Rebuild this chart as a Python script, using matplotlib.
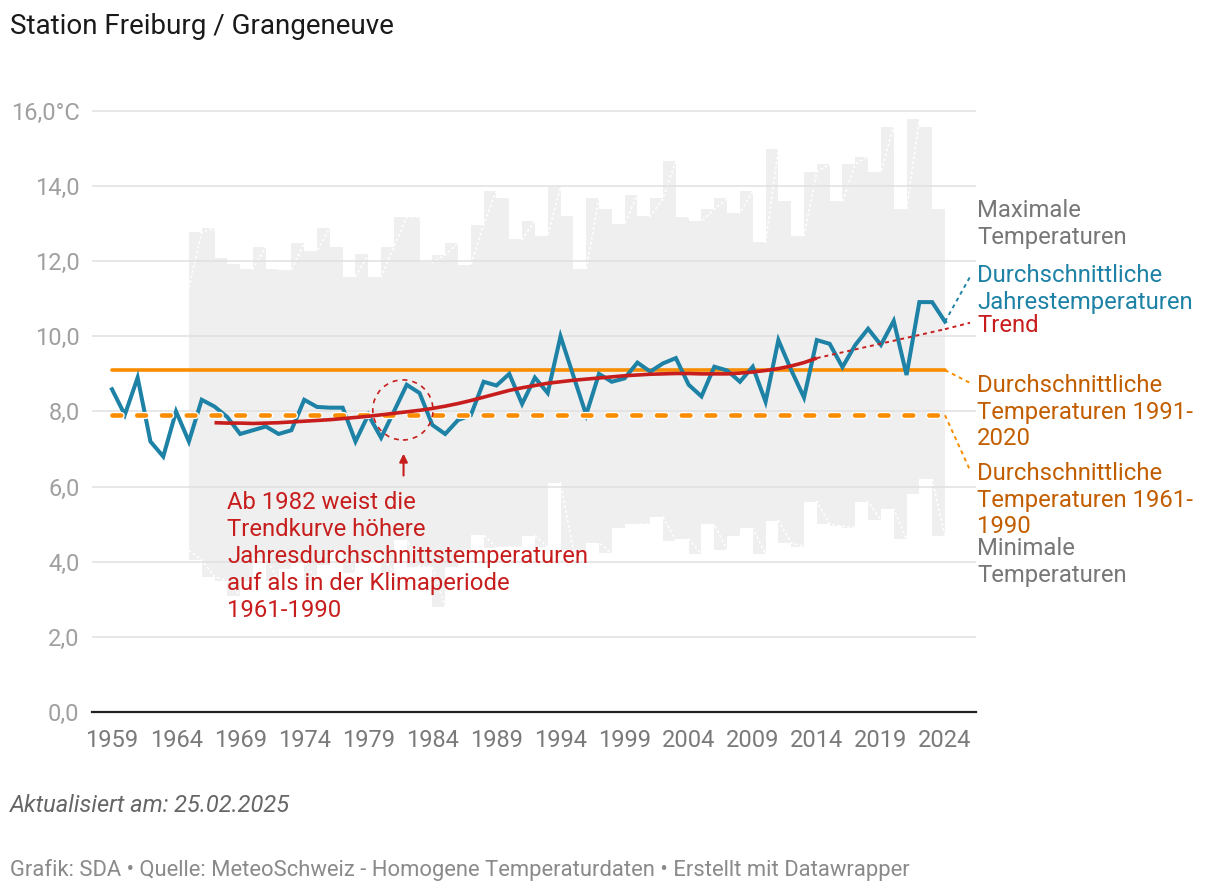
import matplotlib
matplotlib.use("Agg")
import matplotlib.pyplot as plt
import matplotlib.patheffects as pe
from matplotlib.patches import Ellipse

plt.rcParams['font.family'] = ['Roboto', 'DejaVu Sans']

# Jahresmittel 1959-2024
years = list(range(1959, 2025))
mean_temp = [8.59, 7.91, 8.9, 7.2, 6.8, 8.0, 7.2, 8.31, 8.13, 7.85,
             7.4, 7.5, 7.6, 7.4, 7.5, 8.31, 8.12, 8.1, 8.1, 7.2,
             7.91, 7.3, 8.0, 8.71, 8.49, 7.64, 7.4, 7.77, 7.9, 8.79,
             8.69, 9.0, 8.2, 8.9, 8.49, 10.0, 8.95, 7.91, 9.0, 8.79,
             8.88, 9.3, 9.06, 9.28, 9.42, 8.71, 8.4, 9.19, 9.09, 8.79,
             9.19, 8.26, 9.9, 9.1, 8.37, 9.9, 9.8, 9.18, 9.77, 10.2,
             9.77, 10.41, 8.97, 10.91, 10.91, 10.39]

# Max / Min 1965-2024
range_years = list(range(1965, 2025))
max_temp = [11.3, 12.77, 12.88, 12.08, 11.93, 11.79, 12.38, 11.79, 11.77, 12.48,
            12.28, 12.88, 12.38, 11.59, 12.18, 11.59, 12.38, 13.18, 13.18, 11.97,
            12.17, 12.48, 11.9, 12.97, 13.88, 13.67, 12.58, 13.08, 12.67, 13.97,
            13.19, 11.79, 13.67, 13.38, 12.98, 13.77, 13.19, 13.67, 14.67, 13.17,
            13.07, 13.38, 13.67, 13.28, 13.87, 12.5, 14.98, 13.59, 12.68, 14.38,
            14.58, 13.59, 14.58, 14.78, 14.38, 15.58, 13.38, 15.78, 15.58, 13.38]
min_temp = [4.3, 4.05, 3.6, 3.5, 3.1, 3.5, 4.1, 3.5, 3.8, 4.0,
            3.5, 3.9, 4.3, 3.7, 4.0, 4.2, 3.7, 4.58, 3.87, 3.87,
            2.8, 3.87, 4.3, 4.71, 4.37, 4.4, 4.4, 4.69, 4.4, 6.1,
            4.31, 4.27, 4.5, 4.22, 4.89, 5.0, 5.0, 5.2, 4.55, 4.6,
            4.2, 5.0, 4.31, 4.69, 4.89, 4.2, 5.09, 4.5, 4.4, 5.6,
            5.0, 4.95, 4.91, 5.6, 5.11, 5.4, 4.6, 5.8, 6.19, 4.69]

# Trendkurve 1967-2014, danach gepunktet
trend_years = list(range(1967, 2015))
trend = [7.70, 7.69, 7.69, 7.68, 7.69, 7.70, 7.72, 7.74, 7.76, 7.78,
         7.81, 7.84, 7.87, 7.91, 7.95, 7.99, 8.03, 8.08, 8.14, 8.21,
         8.29, 8.38, 8.47, 8.56, 8.63, 8.69, 8.75, 8.79, 8.83, 8.86,
         8.89, 8.92, 8.95, 8.97, 8.99, 9.00, 9.01, 9.01, 9.00, 9.00,
         9.00, 9.02, 9.05, 9.09, 9.14, 9.21, 9.30, 9.42]
trend_ext_years = [2014, 2024]
trend_ext = [9.42, 10.19]

norm_1991_2020 = 9.1
norm_1961_1990 = 7.9

yticks = [0, 2, 4, 6, 8, 10, 12, 14, 16]
ytick_labels = ['0,0', '2,0', '4,0', '6,0', '8,0', '10,0', '12,0', '14,0', '16,0°C']
xticks = list(range(1959, 2025, 5))

BLUE = '#1d82a5'
RED = '#c71e1d'
ORANGE = '#fa8c00'
ORANGE_TXT = '#c35e00'
GRAY_TXT = '#777777'
LBL = 17.2

W, H = 1220, 894
fig = plt.figure(figsize=(W / 100, H / 100), dpi=100)
ax = fig.add_axes([92 / W, 1 - 712 / H, (976 - 92) / W, (712 - 109) / H])
ax.set_xlim(1957.44, 2026.42)
ax.set_ylim(0, 16.05)

# Bereich Min-Max
ax.fill_between(range_years, min_temp, max_temp, step='pre', color='#efefef', lw=0, zorder=1)
ax.plot(range_years, max_temp, color='white', lw=1.2, ls=(0, (1.5, 1.5)), zorder=1.5)
ax.plot(range_years, min_temp, color='white', lw=1.2, ls=(0, (1.5, 1.5)), zorder=1.5)

for y in yticks[1:]:
    ax.axhline(y, color='#e0e0e0', lw=1.1, zorder=2)

ax.plot(years, mean_temp, color=BLUE, lw=2.9, zorder=4, solid_joinstyle='miter')
ax.plot([1959, 2024], [norm_1991_2020] * 2, color=ORANGE, lw=2.6, zorder=3,
        solid_capstyle='round')
dl, = ax.plot([1959, 2024], [norm_1961_1990] * 2, color=ORANGE, lw=3.3, zorder=5,
              dash_capstyle='round')
dl.set_dashes((1.9, 3.5))
dl.set_path_effects([pe.Stroke(linewidth=5.2, foreground='white'), pe.Normal()])

ax.plot(trend_years, trend, color=RED, lw=2.6, zorder=6, solid_capstyle='butt')
ax.plot(trend_ext_years, trend_ext, color=RED, lw=1.4, ls=(0, (2, 2)), zorder=6)

# Verbindungslinien zu den Beschriftungen
lx = 2025.95
ax.plot([2024, lx], [mean_temp[-1], 11.58], color=BLUE, lw=1.4, ls=(0, (2, 2)), clip_on=False)
ax.plot([2024, lx], [trend_ext[-1], 10.36], color=RED, lw=1.4, ls=(0, (2, 2)), clip_on=False)
ax.plot([2024, lx], [norm_1991_2020, 8.76], color=ORANGE, lw=1.4, ls=(0, (2, 2)), clip_on=False)
ax.plot([2024, lx], [norm_1961_1990, 6.44], color=ORANGE, lw=1.4, ls=(0, (2, 2)), clip_on=False)

# Markierung 1982
ax.add_patch(Ellipse((1981.7, 8.04), 4.7, 1.6, fill=False, edgecolor=RED, lw=1.2,
                     ls=(0, (3, 3)), zorder=7))
ax.annotate('', xy=(1981.75, 6.95), xytext=(1981.75, 6.22),
            arrowprops=dict(arrowstyle='-|>', color=RED, lw=1.5, mutation_scale=12))
ax.text(1968.0, 4.13, 'Ab 1982 weist die\nTrendkurve höhere\nJahresdurchschnittstemperaturen\n'
        'auf als in der Klimaperiode\n1961-1990', color=RED, fontsize=LBL,
        ha='left', va='center', linespacing=1.22, zorder=8)

for s in ['left', 'right', 'top']:
    ax.spines[s].set_visible(False)
ax.spines['bottom'].set_color('#222222')
ax.spines['bottom'].set_linewidth(1.6)
ax.spines['bottom'].set_zorder(9)

ax.set_yticks(yticks)
ax.set_yticklabels(ytick_labels)
ax.set_xticks(xticks)
ax.tick_params(axis='y', length=0, pad=9, labelsize=17, labelcolor='#a0a0a0')
ax.tick_params(axis='x', length=0, pad=12, labelsize=17, labelcolor='#7a7a7a')


def ftext(x, y, s, **kw):
    fig.text(x / W, 1 - y / H, s, **kw)


ftext(977, 224, 'Maximale\nTemperaturen', color=GRAY_TXT, fontsize=LBL, va='center', linespacing=1.18)
ftext(977, 289, 'Durchschnittliche\nJahrestemperaturen', color=BLUE, fontsize=LBL, va='center', linespacing=1.18)
ftext(977, 325, 'Trend', color=RED, fontsize=LBL, va='center')
ftext(977, 412, 'Durchschnittliche\nTemperaturen 1991-\n2020', color=ORANGE_TXT, fontsize=LBL,
      va='center', linespacing=1.18)
ftext(977, 500, 'Durchschnittliche\nTemperaturen 1961-\n1990', color=ORANGE_TXT, fontsize=LBL,
      va='center', linespacing=1.18)
ftext(977, 562, 'Minimale\nTemperaturen', color=GRAY_TXT, fontsize=LBL, va='center', linespacing=1.18)

ftext(10, 27, 'Station Freiburg / Grangeneuve', color='#1a1a1a', fontsize=20, va='center')
ftext(10, 805, 'Aktualisiert am: 25.02.2025', color='#666666', fontsize=17, style='italic', va='center')
ftext(10, 870, 'Grafik: SDA • Quelle: MeteoSchweiz - Homogene Temperaturdaten • Erstellt mit Datawrapper',
      color='#8a8a8a', fontsize=15.85, va='center')

fig.savefig('out.png', dpi=100)
